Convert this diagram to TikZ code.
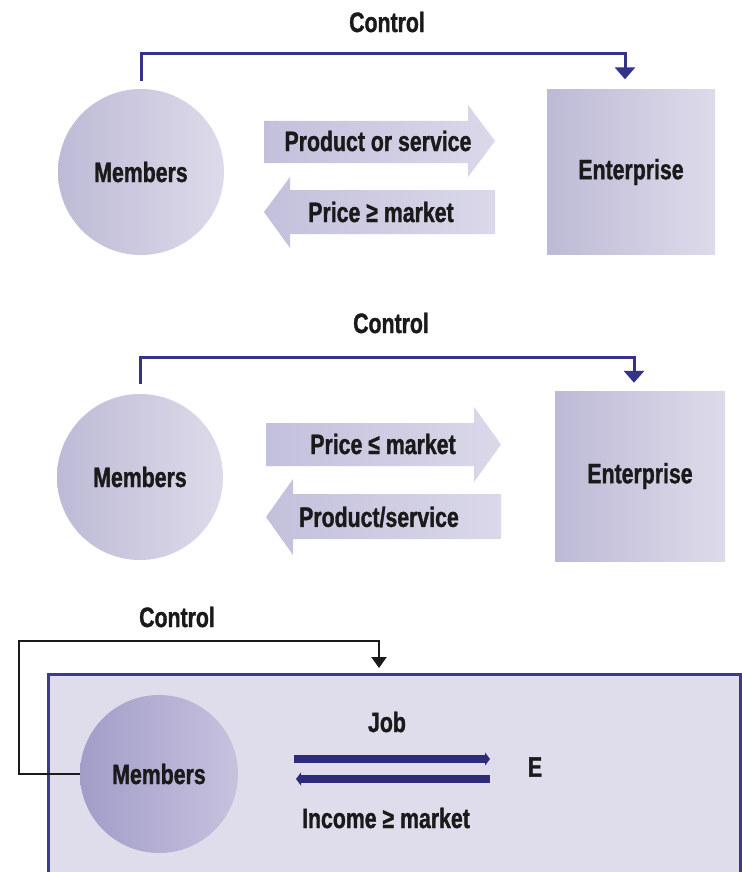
\documentclass[tikz,border=0pt]{standalone}
\usepackage{fontspec}
\newfontfamily\lblfont{Liberation Sans Bold}[FakeStretch=0.76, FakeBold=1.2]
\usetikzlibrary{arrows.meta}
\definecolor{shL}{HTML}{BDBAD6}
\definecolor{shR}{HTML}{DDDBEA}
\definecolor{arL}{HTML}{C3C0DC}
\definecolor{arR}{HTML}{DAD8E9}
\definecolor{deepL}{HTML}{A29DC8}
\definecolor{deepR}{HTML}{C6C2DE}
\definecolor{boxfill}{HTML}{DFDDEC}
\definecolor{boxline}{HTML}{3D3A8C}
\definecolor{navy}{HTML}{35328A}
\definecolor{navytwo}{HTML}{2E2B7D}
\definecolor{ink}{HTML}{1A1A1A}
\begin{document}
\begin{tikzpicture}[x=1pt,y=-1pt,
  lbl/.style={font=\lblfont\fontsize{28}{30}\selectfont, inner sep=0pt, text=ink},
  member/.style={lbl, circle, minimum size=166pt, left color=shL, right color=shR},
  memberdeep/.style={lbl, circle, minimum size=158pt, left color=deepL, right color=deepR},
  enterprise/.style={lbl, rectangle, left color=shL, right color=shR},
  fatarrow/.style={left color=arL, right color=arR},
  ctrl/.style={draw=navy, line width=3pt, -{Triangle[width=20pt,length=12pt]}},
  ctrlblack/.style={draw=ink, line width=2.2pt, -{Triangle[width=15pt,length=11pt]}},
  jobarrow/.style={draw=navytwo, line width=8pt, -{Triangle[width=13pt,length=5pt]}}
]
\useasboundingbox (0,0) rectangle (741,872);
\fill[white] (0,0) rectangle (741,872);

% ---------- Panel 1 ----------
\node[lbl] (ctl1) at (387,22) {Control};
\node[member] (m1) at (141,172) {Members};
\node[enterprise, minimum width=168pt, minimum height=165pt] (e1) at (631,172) {Enterprise};
\shade[fatarrow] (264,121) -- (468,121) -- (468,105) -- (495,141) -- (468,177) -- (468,163) -- (264,163) -- cycle;
\shade[fatarrow] (264,212) -- (290,177) -- (290,190) -- (495,190) -- (495,234) -- (290,234) -- (290,248) -- cycle;
\node[lbl] (t1a) at (378,141) {Product or service};
\node[lbl] (t1b) at (381,212) {Price ≥ market};
\coordinate (k1) at (0,54);
\draw[ctrl, shorten <=8pt, shorten >=10pt] (m1.north) -- (m1.north |- k1) -| ([xshift=-6pt]e1.north);

% ---------- Panel 2 ----------
\node[lbl] (ctl2) at (391,323) {Control};
\node[member] (m2) at (140,477) {Members};
\node[enterprise, minimum width=170pt, minimum height=170pt] (e2) at (640,476) {Enterprise};
\shade[fatarrow] (266,423) -- (474,423) -- (474,407) -- (501,444.5) -- (474,482) -- (474,466) -- (266,466) -- cycle;
\shade[fatarrow] (266,517) -- (293,479) -- (293,494) -- (501,494) -- (501,539) -- (293,539) -- (293,555) -- cycle;
\node[lbl] (t2a) at (383,444) {Price ≤ market};
\node[lbl] (t2b) at (379,517) {Product/service};
\coordinate (k2) at (0,357);
\draw[ctrl, shorten <=10pt, shorten >=8pt] (m2.north) -- (m2.north |- k2) -| ([xshift=-6pt]e2.north);

% ---------- Panel 3 ----------
\node[draw=boxline, line width=2.5pt, fill=boxfill, minimum width=692pt, minimum height=240pt, inner sep=0pt, anchor=north west] (ebox) at (47,673) {};
\node[lbl] (ctl3) at (177,617) {Control};
\node[memberdeep] (m3) at (159,774) {Members};
\node[lbl] (job) at (387,722) {Job};
\node[lbl] (e3) at (535,767) {E};
\node[lbl] (inc) at (386,818) {Income ≥ market};
\coordinate (ja) at (294,759);
\coordinate (jb) at (490,759);
\coordinate (ia) at (490,779);
\coordinate (ib) at (296,779);
\draw[jobarrow] (ja) -- (jb);
\draw[jobarrow] (ia) -- (ib);
\coordinate (k3a) at (19,641);
\coordinate (k3b) at (379,641);
\draw[ctrlblack, shorten >=5pt] (m3.west) -| (k3a) -- (k3b) -- (k3b |- ebox.north);
\end{tikzpicture}
\end{document}
